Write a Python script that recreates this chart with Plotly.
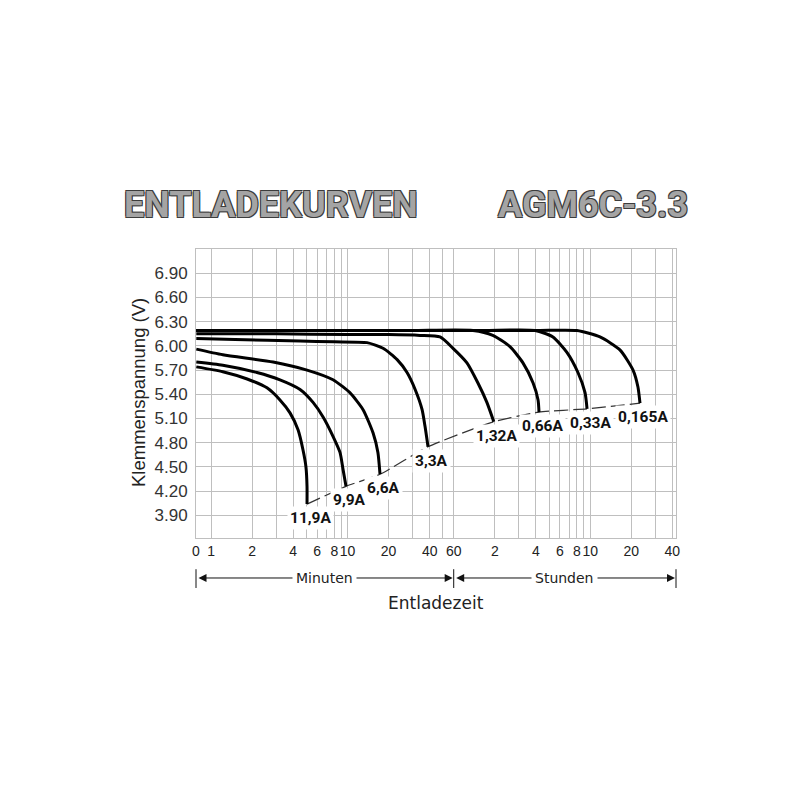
import numpy as np
import plotly.graph_objects as go

# Discharge curves (time in minutes, terminal voltage in V)
t_11_9 = [0.78, 1.22, 1.84, 2.57, 3.20, 3.79, 4.34, 4.72, 4.96, 5.05, 5.05]
v_11_9 = [5.74, 5.68, 5.59, 5.48, 5.33, 5.17, 4.96, 4.71, 4.50, 4.26, 4.04]

t_9_9 = [0.78, 1.22, 2.17, 3.20, 4.49, 5.59, 6.62, 7.83, 8.81, 9.27, 9.75]
v_9_9 = [5.80, 5.76, 5.67, 5.58, 5.46, 5.30, 5.12, 4.88, 4.68, 4.47, 4.26]

t_6_6 = [0.78, 1.22, 2.85, 5.05, 7.83, 10.4, 13.0, 15.4, 16.7, 17.3]
v_6_6 = [5.96, 5.89, 5.80, 5.70, 5.58, 5.42, 5.21, 4.92, 4.68, 4.41]

t_3_3 = [0.78, 1.5, 4.49, 8.0, 13.9, 18.2, 23.1, 27.3, 31.3, 35.2, 37.0, 38.9]
v_3_3 = [6.09, 6.08, 6.06, 6.05, 6.04, 5.97, 5.83, 5.67, 5.46, 5.21, 5.00, 4.75]

t_1_32 = [0.78, 3.0, 10.0, 20.0, 34.0, 47.6, 59.3, 75.0, 90.3, 105, 118]
v_1_32 = [6.15, 6.15, 6.14, 6.14, 6.13, 6.11, 5.97, 5.79, 5.54, 5.30, 5.06]

t_0_66 = [0.78, 3.0, 10.0, 30.0, 83.0, 116, 155, 193, 229, 249, 253]
v_0_66 = [6.19, 6.19, 6.19, 6.19, 6.19, 6.13, 5.99, 5.79, 5.54, 5.33, 5.18]

t_0_33 = [0.78, 3.0, 10.0, 30.0, 100, 237, 320, 405, 488, 550, 569]
v_0_33 = [6.19, 6.19, 6.19, 6.19, 6.19, 6.19, 6.11, 5.92, 5.67, 5.42, 5.22]

t_0_165 = [0.78, 3.0, 10.0, 30.0, 100, 250, 480, 708, 991, 1236, 1343, 1390]
v_0_165 = [6.19, 6.19, 6.19, 6.19, 6.19, 6.19, 6.19, 6.11, 5.95, 5.70, 5.49, 5.29]

curves = [
    ("11,9A", t_11_9, v_11_9),
    ("9,9A", t_9_9, v_9_9),
    ("6,6A", t_6_6, v_6_6),
    ("3,3A", t_3_3, v_3_3),
    ("1,32A", t_1_32, v_1_32),
    ("0,66A", t_0_66, v_0_66),
    ("0,33A", t_0_33, v_0_33),
    ("0,165A", t_0_165, v_0_165),
]

# axis setup (minutes on a log scale)
x_min, x_max = 0.776, 2552
y_min, y_max = 3.62, 7.20

grid_minutes = [1, 2, 3, 4, 5, 6, 7, 8, 9, 10, 20, 30, 40, 50, 60,
                120, 180, 240, 300, 360, 420, 480, 540, 600, 1200, 1800, 2400]
label_minutes = {0.776: "0", 1: "1", 2: "2", 4: "4", 6: "6", 8: "8", 10: "10",
                 20: "20", 40: "40", 60: "60", 120: "2", 240: "4", 360: "6",
                 480: "8", 600: "10", 1200: "20", 2400: "40"}
y_ticks = [3.90, 4.20, 4.50, 4.80, 5.10, 5.40, 5.70, 6.00, 6.30, 6.60, 6.90]

x_tickvals = [x_min] + grid_minutes
x_ticktext = [label_minutes.get(v, "") for v in x_tickvals]

# page body has an 8px margin, so the figure is 792 px and shifted
fig_w, fig_h = 792, 792
margin_l, margin_t = 188, 241
plot_w, plot_h = 480, 289
margin_r = fig_w - margin_l - plot_w
margin_b = fig_h - margin_t - plot_h

grid_col = "#bfbfbf"
bold_font = "Roboto, Liberation Sans, Arial, sans-serif"


def to_paper(t):
    return (np.log10(t) - np.log10(x_min)) / (np.log10(x_max) - np.log10(x_min))


fig = go.Figure()

# end-of-discharge line through the curve ends
t_end = [c[1][-1] for c in curves]
v_end = [c[2][-1] for c in curves]
fig.add_trace(go.Scatter(
    x=t_end, y=v_end, mode="lines",
    line=dict(color="#333333", width=1.2, dash="14px,5px", shape="spline", smoothing=0.5),
    showlegend=False, hoverinfo="skip"
))

for name, t, v in curves:
    fig.add_trace(go.Scatter(
        x=t, y=v, mode="lines", name=name,
        line=dict(color="black", width=3, shape="spline", smoothing=0.6),
        showlegend=False
    ))

annotations = []

# current labels under each curve end
for name, t, v in curves:
    annotations.append(dict(
        x=np.log10(t[-1]), y=v[-1], xref="x", yref="y",
        text="<b>" + name + "</b>", showarrow=False,
        xanchor="center", yanchor="middle", xshift=3, yshift=-14,
        font=dict(family=bold_font, size=15.5, color="#111111"),
        bgcolor="white", borderpad=2
    ))

# headline
title_font = dict(family=bold_font, size=36, color="#a4a4a4", weight="bold",
                  shadow="-1px -1px 0 #3c3c3c, 1px -1px 0 #3c3c3c, -1px 1px 0 #3c3c3c, 1px 1px 0 #3c3c3c")
annotations.append(dict(x=-0.154, y=1.152, xref="paper", yref="paper", text="ENTLADEKURVEN",
                        showarrow=False, xanchor="left", yanchor="middle", font=title_font))
annotations.append(dict(x=1.029, y=1.152, xref="paper", yref="paper", text="AGM6C-3.3",
                        showarrow=False, xanchor="right", yanchor="middle", font=title_font))

# y-axis title
annotations.append(dict(x=-0.121, y=0.505, xref="paper", yref="paper", text="Klemmenspannung (V)",
                        textangle=-90, showarrow=False, xanchor="center", yanchor="middle",
                        font=dict(family="Liberation Sans, Arial", size=18.5, color="#222222")))

# Minuten / Stunden arrows
x60 = to_paper(60)
y_arrow = -0.1384
for x0, x1, label in [(0.0, x60, "Minuten"), (x60, 1.0, "Stunden")]:
    annotations.append(dict(
        x=x1, y=y_arrow, xref="paper", yref="paper", text="",
        showarrow=True, ax=-(x1 - x0) * plot_w, ay=0,
        arrowside="end+start", arrowhead=2, arrowsize=1.6, arrowwidth=1,
        arrowcolor="#111111", standoff=1, startstandoff=1
    ))
    annotations.append(dict(
        x=(x0 + x1) / 2, y=y_arrow, xref="paper", yref="paper", text=label,
        showarrow=False, bgcolor="white", borderpad=3,
        xanchor="center", yanchor="middle",
        font=dict(family="DejaVu Sans, Verdana", size=14, color="#222222")
    ))

annotations.append(dict(x=0.5, y=-0.225, xref="paper", yref="paper", text="Entladezeit",
                        showarrow=False, xanchor="center", yanchor="middle",
                        font=dict(family="DejaVu Sans, Verdana", size=17, color="#222222")))

shapes = []
for xb in [0.0, x60, 1.0]:
    shapes.append(dict(type="line", xref="paper", yref="paper",
                       x0=xb, x1=xb, y0=-0.108, y1=-0.173,
                       line=dict(color="#111111", width=1)))

fig.update_layout(
    width=fig_w, height=fig_h,
    margin=dict(l=margin_l, r=margin_r, t=margin_t, b=margin_b, autoexpand=False),
    paper_bgcolor="white", plot_bgcolor="white",
    annotations=annotations, shapes=shapes,
    xaxis=dict(
        type="log", range=[np.log10(x_min), np.log10(x_max)],
        tickmode="array", tickvals=x_tickvals, ticktext=x_ticktext, tickangle=0,
        showgrid=True, gridcolor=grid_col, gridwidth=1,
        showline=True, linecolor=grid_col, linewidth=1, mirror=True,
        ticks="", zeroline=False,
        tickfont=dict(family="Liberation Sans, Arial", size=14, color="#222222")
    ),
    yaxis=dict(
        range=[y_min, y_max],
        tickmode="array", tickvals=y_ticks, ticktext=["%.2f" % v for v in y_ticks],
        showgrid=True, gridcolor=grid_col, gridwidth=1,
        showline=True, linecolor=grid_col, linewidth=1, mirror=True,
        ticks="", zeroline=False, ticklabelstandoff=4,
        tickfont=dict(family="Liberation Sans, Arial", size=17, color="#333333")
    ),
)

fig.write_html("out.html")
